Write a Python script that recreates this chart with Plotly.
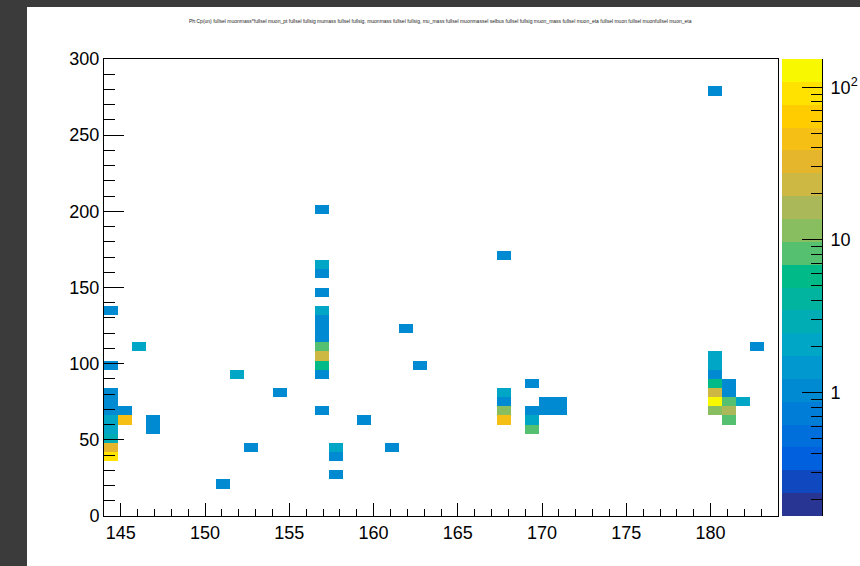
import numpy as np
import plotly.graph_objects as go

# ---------------- histogram definition (ROOT-style TH2, COLZ, log z) ----------------
x_min, x_max, n_xbins = 144.0, 184.0, 48
y_min, y_max, n_ybins = 0.0, 300.0, 50

# filled bins: bin-centre x, bin-centre y, bin content
bin_x = [144.42, 144.42, 144.42, 144.42, 144.42, 144.42, 144.42, 144.42, 144.42, 144.42,
         145.25, 145.25,
         146.08,
         146.92, 146.92,
         151.08,
         151.92,
         152.75,
         154.42,
         156.92, 156.92, 156.92, 156.92, 156.92, 156.92, 156.92, 156.92, 156.92, 156.92,
         156.92, 156.92, 156.92,
         157.75, 157.75, 157.75,
         159.42,
         161.08,
         161.92,
         162.75,
         167.75, 167.75, 167.75, 167.75, 167.75,
         169.42, 169.42, 169.42, 169.42,
         170.25, 170.25,
         171.08, 171.08,
         180.25, 180.25, 180.25, 180.25, 180.25, 180.25, 180.25, 180.25,
         181.08, 181.08, 181.08, 181.08, 181.08,
         181.92,
         182.75]
bin_y = [135, 99, 81, 75, 69, 63, 57, 51, 45, 39,
         69, 63,
         111,
         63, 57,
         21,
         93,
         45,
         81,
         201, 165, 159, 147, 135, 129, 123, 117, 111, 105,
         99, 93, 69,
         45, 39, 27,
         63,
         45,
         123,
         99,
         171, 81, 75, 69, 63,
         87, 69, 63, 57,
         75, 69,
         75, 69,
         279, 105, 99, 93, 87, 81, 75, 69,
         87, 81, 75, 69, 63,
         75,
         111]
bin_content = [1, 1, 1, 1, 1, 2, 2, 3, 30, 100,
               1, 45,
               2,
               1, 1,
               1,
               2,
               1,
               1,
               1, 2, 1, 1, 2, 1, 1, 1, 8, 21,
               6, 1, 1,
               2, 1, 1,
               1,
               1,
               1,
               1,
               1, 2, 1, 11, 45,
               1, 1, 2, 8,
               1, 1,
               1, 1,
               1, 2, 2, 1, 6, 21, 150, 11,
               1, 1, 8, 15, 8,
               2,
               1]

# colour axis (log scale) limits
z_lo, z_hi = 0.155, 153.0
n_contours = 20
band_colors = ["#283593", "#1048C0", "#0060DE", "#006FDB", "#007DD7",
               "#008AD2", "#0098CF", "#00A6C6", "#00ADB4", "#00B4A0",
               "#00BB88", "#55C070", "#88BE60", "#AAB85A", "#CDB844",
               "#E5B62C", "#F5BF16", "#FFCC00", "#FFE200", "#F8F800"]

x_tick_vals = [145, 150, 155, 160, 165, 170, 175, 180]
y_tick_vals = [0, 50, 100, 150, 200, 250, 300]
z_tick_vals = [1, 10, 100]
z_tick_text = ["1", "10", "10<sup>2</sup>"]

title_text = ("Ph:Cp(un) fullsel muonmass*fullsel muon_pt fullsel fullsig mumass fullsel fullsig, "
              "muonmass fullsel fullsig, mu_mass fullsel muonmassel selbus fullsel fullsig muon_mass "
              "fullsel muon_eta fullsel muon fullsel muonfullsel muon_eta")

# ---------------- build the binned grid ----------------
bw_x = (x_max - x_min) / n_xbins
bw_y = (y_max - y_min) / n_ybins
x_edges = np.linspace(x_min, x_max, n_xbins + 1)
y_edges = np.linspace(y_min, y_max, n_ybins + 1)
grid = np.full((n_ybins, n_xbins), np.nan)
for xv, yv, cv in zip(bin_x, bin_y, bin_content):
    ix = int(np.floor((xv - x_min) / bw_x))
    iy = int(np.floor((yv - y_min) / bw_y))
    grid[iy, ix] = np.log10(cv)

lz_lo, lz_hi = np.log10(z_lo), np.log10(z_hi)
colorscale = []
for i, c in enumerate(band_colors):
    colorscale.append([i / n_contours, c])
    colorscale.append([(i + 1) / n_contours, c])

FONT = "Liberation Sans, Arial, Helvetica, sans-serif"

fig = go.Figure()
fig.add_trace(go.Heatmap(
    x=x_edges, y=y_edges, z=grid,
    colorscale=colorscale, zmin=lz_lo, zmax=lz_hi,
    showscale=False, hoverongaps=False, xaxis="x", yaxis="y"))

# colour palette drawn as its own axis (ROOT style palette axis)
band_edges = 10 ** np.linspace(lz_lo, lz_hi, n_contours + 1)
band_mid = [[lz_lo + (i + 0.5) * (lz_hi - lz_lo) / n_contours] for i in range(n_contours)]
fig.add_trace(go.Heatmap(
    x=[0, 1], y=band_edges, z=band_mid,
    colorscale=colorscale, zmin=lz_lo, zmax=lz_hi,
    showscale=False, hoverinfo="skip", xaxis="x2", yaxis="y2"))

minor_z = [d * 10 ** e for e in (-1, 0, 1, 2) for d in range(2, 10)
           if z_lo <= d * 10 ** e <= z_hi]

W, H = 860, 566
L, R, T, B = 104, 38, 59, 50
pw = W - L - R
ph = H - T - B
frame_right = 778
pal_left = 782

fig.update_layout(
    width=W, height=H, autosize=False,
    margin=dict(l=L, r=R, t=T, b=B, pad=0, autoexpand=False),
    paper_bgcolor="#3b3b3b",
    plot_bgcolor="white",
    showlegend=False,
    font=dict(family=FONT, size=18, color="black"),
    xaxis=dict(domain=[0, (frame_right - L) / pw], range=[x_min, x_max], automargin=False,
               tickmode="array", tickvals=x_tick_vals,
               ticks="inside", ticklen=13, tickwidth=1, tickcolor="black",
               minor=dict(ticks="inside", ticklen=7, tickwidth=1, tickcolor="black",
                          tickmode="linear", tick0=144, dtick=1, showgrid=False),
               showline=True, linecolor="black", linewidth=1, mirror=True,
               showgrid=False, zeroline=False, tickfont=dict(size=18, family=FONT)),
    yaxis=dict(range=[y_min, y_max], automargin=False, tickmode="array", tickvals=y_tick_vals,
               ticks="inside", ticklen=20, tickwidth=1, tickcolor="black",
               minor=dict(ticks="inside", ticklen=11, tickwidth=1, tickcolor="black",
                          tickmode="linear", tick0=0, dtick=10, showgrid=False),
               showline=True, linecolor="black", linewidth=1, mirror=True,
               showgrid=False, zeroline=False, tickfont=dict(size=18, family=FONT)),
    xaxis2=dict(domain=[(pal_left - L) / pw, 1], range=[0, 1], visible=False,
                anchor="y2", automargin=False),
    yaxis2=dict(anchor="x2", type="log", range=[lz_lo, lz_hi], side="right", automargin=False,
                tickmode="array", tickvals=z_tick_vals, ticktext=z_tick_text,
                ticks="inside", ticklen=20, tickwidth=1, tickcolor="black",
                ticklabelstandoff=4,
                minor=dict(ticks="inside", ticklen=11, tickwidth=1, tickcolor="black",
                           tickmode="array", tickvals=minor_z, showgrid=False),
                showline=True, linecolor="black", linewidth=1,
                showgrid=False, zeroline=False, tickfont=dict(size=18, family=FONT)),
    shapes=[dict(type="rect", xref="paper", yref="paper", layer="below",
                 x0=(27 - L) / pw, x1=(W + 20 - L) / pw,
                 y0=(H - B - (H + 20)) / ph, y1=(H - B - 7) / ph,
                 fillcolor="white", line=dict(width=0))],
    annotations=[dict(text=title_text, xref="paper", yref="paper",
                      x=(440 - L) / pw, y=(H - B - 21) / ph,
                      xanchor="center", yanchor="middle", showarrow=False,
                      font=dict(size=5, color="#222222", family=FONT))],
)

fig.write_html(
    "out.html",
    config={"displayModeBar": False, "responsive": False},
    post_script=("document.body.style.margin='0px';"
                 "document.body.style.background='#3b3b3b';"
                 "document.body.style.overflow='hidden';"),
)
